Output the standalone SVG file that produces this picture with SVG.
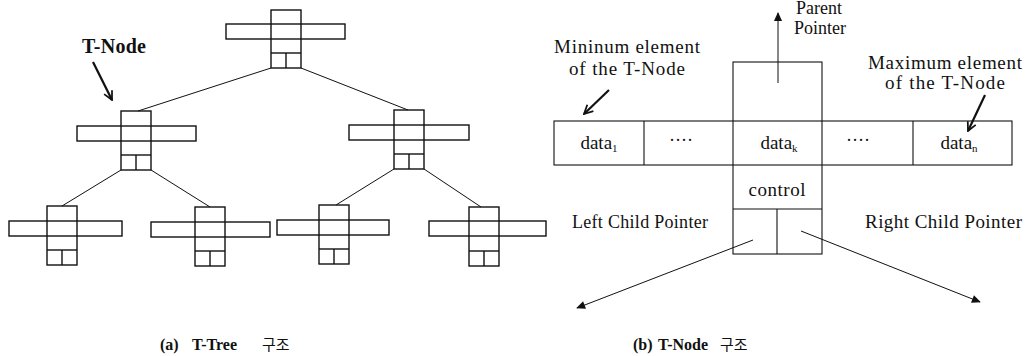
<svg xmlns="http://www.w3.org/2000/svg" width="1031" height="356" viewBox="0 0 1031 356">
  <style>
    .tn { fill: none; stroke: #111; stroke-width: 1.4; }
    .edge { fill: none; stroke: #111; stroke-width: 1; }
    .box { fill: none; stroke: #111; stroke-width: 1.1; }
    .lbl { font-family: "Liberation Serif", "Times New Roman", serif; fill: #111; }
    .cap { font-family: "Liberation Serif", "Times New Roman", serif; font-weight: bold; font-size: 16px; fill: #111; }
    .kr { font-family: "Noto Sans CJK KR", sans-serif; font-weight: normal; font-size: 15px; fill: #111; }
    .thick { fill: none; stroke: #111; stroke-width: 2.2; }
    .ptr { fill: none; stroke: #111; stroke-width: 1; }
  </style>
  <defs>
    <marker id="vhead" viewBox="0 0 10 10" refX="9" refY="5" markerWidth="5" markerHeight="5" orient="auto" markerUnits="strokeWidth">
      <path d="M1,1 L9,5 L1,9" fill="none" stroke="#111" stroke-width="1.6"/>
    </marker>
    <marker id="fhead" viewBox="0 0 10 10" refX="9" refY="5" markerWidth="10" markerHeight="9" orient="auto" markerUnits="userSpaceOnUse">
      <path d="M0,0.5 L10,5 L0,9.5 z" fill="#111"/>
    </marker>
  </defs>

  <!-- (a) T-Tree -->
  <g id="tree-edges">
    <line class="edge" x1="271" y1="68" x2="138" y2="111"/>
    <line class="edge" x1="301" y1="68" x2="408" y2="110"/>
    <line class="edge" x1="121" y1="170" x2="62" y2="206"/>
    <line class="edge" x1="151" y1="170" x2="210" y2="207"/>
    <line class="edge" x1="394" y1="169" x2="336" y2="205"/>
    <line class="edge" x1="424" y1="169" x2="481" y2="207"/>
  </g>

  <g id="node-root">
    <rect class="tn" x="226" y="24" width="119" height="15"/>
    <rect class="tn" x="271" y="10" width="30" height="58"/>
    <line class="tn" x1="271" y1="53" x2="301" y2="53"/>
    <line class="tn" x1="286" y1="53" x2="286" y2="68"/>
  </g>
  <g id="node-l">
    <rect class="tn" x="77" y="126" width="119" height="15"/>
    <rect class="tn" x="121" y="111" width="30" height="59"/>
    <line class="tn" x1="121" y1="155" x2="151" y2="155"/>
    <line class="tn" x1="136" y1="155" x2="136" y2="170"/>
  </g>
  <g id="node-r">
    <rect class="tn" x="349" y="125" width="120" height="15"/>
    <rect class="tn" x="394" y="110" width="30" height="59"/>
    <line class="tn" x1="394" y1="154" x2="424" y2="154"/>
    <line class="tn" x1="409" y1="154" x2="409" y2="169"/>
  </g>
  <g id="node-ll">
    <rect class="tn" x="9" y="221" width="113" height="15"/>
    <rect class="tn" x="47" y="206" width="30" height="59"/>
    <line class="tn" x1="47" y1="250" x2="77" y2="250"/>
    <line class="tn" x1="62" y1="250" x2="62" y2="265"/>
  </g>
  <g id="node-lr">
    <rect class="tn" x="151" y="222" width="119" height="15"/>
    <rect class="tn" x="195" y="207" width="30" height="59"/>
    <line class="tn" x1="195" y1="251" x2="225" y2="251"/>
    <line class="tn" x1="210" y1="251" x2="210" y2="266"/>
  </g>
  <g id="node-rl">
    <rect class="tn" x="277" y="220" width="112" height="15"/>
    <rect class="tn" x="319" y="205" width="30" height="59"/>
    <line class="tn" x1="319" y1="249" x2="349" y2="249"/>
    <line class="tn" x1="334" y1="249" x2="334" y2="264"/>
  </g>
  <g id="node-rr">
    <rect class="tn" x="429" y="221" width="117" height="15"/>
    <rect class="tn" x="469" y="207" width="30" height="59"/>
    <line class="tn" x1="469" y1="251" x2="499" y2="251"/>
    <line class="tn" x1="484" y1="251" x2="484" y2="266"/>
  </g>

  <g id="tnode-callout">
    <text class="lbl" x="82" y="53" font-size="20" font-weight="bold" textLength="64" lengthAdjust="spacing">T-Node</text>
    <line class="thick" x1="93" y1="62" x2="112" y2="100" marker-end="url(#vhead)"/>
  </g>

  <!-- (b) T-Node layout -->
  <g id="tnode-detail">
    <rect class="box" x="554" y="121" width="458" height="44"/>
    <rect class="box" x="733" y="62" width="89" height="192"/>
    <line class="box" x1="644" y1="121" x2="644" y2="165"/>
    <line class="box" x1="913" y1="121" x2="913" y2="165"/>
    <line class="box" x1="733" y1="209" x2="822" y2="209"/>
    <line class="box" x1="777" y1="209" x2="777" y2="254"/>
    <text class="lbl" font-size="19" text-anchor="middle" x="599" y="149">data<tspan font-size="11" dy="3">1</tspan></text>
    <text class="lbl" font-size="18" text-anchor="middle" x="681" y="146">····</text>
    <text class="lbl" font-size="19" text-anchor="middle" x="779" y="149">data<tspan font-size="11" dy="3">k</tspan></text>
    <text class="lbl" font-size="18" text-anchor="middle" x="858" y="146">····</text>
    <text class="lbl" font-size="19" text-anchor="middle" x="959" y="149">data<tspan font-size="11" dy="3">n</tspan></text>
    <text class="lbl" font-size="19" text-anchor="middle" x="777" y="196" textLength="57" lengthAdjust="spacing">control</text>
  </g>

  <g id="pointers">
    <line class="ptr" x1="778" y1="83" x2="778" y2="13" marker-end="url(#fhead)"/>
    <line class="ptr" x1="753" y1="240" x2="577" y2="308" marker-end="url(#fhead)"/>
    <line class="ptr" x1="801" y1="231" x2="980" y2="302" marker-end="url(#fhead)"/>
    <line class="thick" x1="609" y1="90" x2="584" y2="114" marker-end="url(#vhead)"/>
    <line class="thick" x1="985" y1="95" x2="968" y2="131" marker-end="url(#vhead)"/>
  </g>

  <g id="labels">
    <text class="lbl" font-size="18" text-anchor="middle" x="819" y="14">Parent</text>
    <text class="lbl" font-size="18" text-anchor="middle" x="820" y="34">Pointer</text>
    <text class="lbl" font-size="19" text-anchor="middle" x="627" y="53" textLength="146" lengthAdjust="spacing">Mininum element</text>
    <text class="lbl" font-size="19" text-anchor="middle" x="627" y="75" textLength="116" lengthAdjust="spacing">of the T-Node</text>
    <text class="lbl" font-size="19" text-anchor="middle" x="945" y="69" textLength="154" lengthAdjust="spacing">Maximum element</text>
    <text class="lbl" font-size="19" text-anchor="middle" x="945" y="89" textLength="120" lengthAdjust="spacing">of the T-Node</text>
    <text class="lbl" font-size="18" x="572" y="228" textLength="136" lengthAdjust="spacing">Left Child Pointer</text>
    <text class="lbl" font-size="19" x="865" y="228" textLength="157" lengthAdjust="spacing">Right Child Pointer</text>
  </g>

  <g id="captions">
    <text class="cap" y="350"><tspan x="160">(a)</tspan><tspan x="192">T-Tree</tspan><tspan class="kr" x="262">구조</tspan></text>
    <text class="cap" y="350"><tspan x="633">(b)</tspan><tspan x="658">T-Node</tspan><tspan class="kr" x="720">구조</tspan></text>
  </g>
</svg>
